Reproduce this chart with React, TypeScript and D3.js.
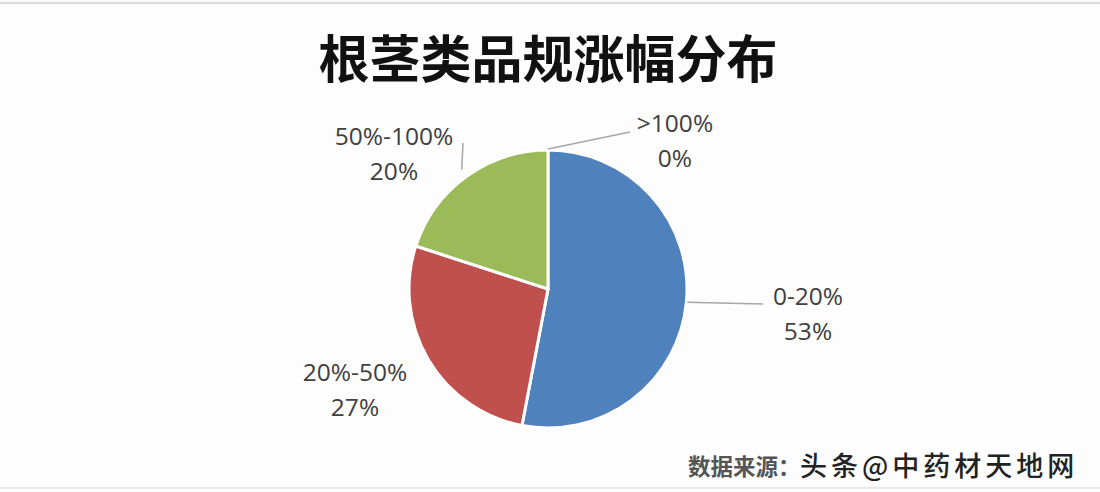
import React from "react";
import * as d3 from "d3";

const categories = ["0-20%", "20%-50%", "50%-100%", ">100%"];
const values = [53, 27, 20, 0];
const colors = ["#4f81bd", "#c0504d", "#9bbb59", "#8064a2"];

const W = 1100, H = 492;
const cx = 548, cy = 289, R = 139;

// label layout (text anchor point + leader line end on label side)
const labelPos = [
  { x: 808, y: 305, lx: 763, ly: 304 },
  { x: 355, y: 381, lx: null, ly: null },
  { x: 394, y: 145, lx: 463, ly: 143 },
  { x: 675, y: 132, lx: 630, ly: 132 },
];

export default function App() {
  const pie = d3.pie<number>().sort(null).value((d) => d)(values);
  const arc = d3.arc<d3.PieArcDatum<number>>().innerRadius(0).outerRadius(R);
  const font = "'Open Sans', 'Noto Sans', sans-serif";
  return (
    <svg width={W} height={H} style={{ position: "absolute", left: 0, top: 0, background: "#fdfdfd" }}>
      <rect x={0} y={0} width={W} height={H} fill="#fdfdfd" />
      <line x1={0} x2={W} y1={3} y2={3} stroke="#d8d8d8" strokeWidth={2} />
      <line x1={0} x2={W} y1={488} y2={488} stroke="#e0e0e0" strokeWidth={1.5} />
      <text x={cx} y={78} textAnchor="middle" fontFamily="'Noto Sans CJK SC', sans-serif" fontWeight={700} fontSize={51} fill="#111">
        根茎类品规涨幅分布
      </text>
      <g transform={`translate(${cx},${cy})`}>
        {pie.map((p, i) => (
          <path key={i} d={arc(p) || ""} fill={colors[i]} stroke="#ffffff" strokeWidth={p.value > 0 ? 3 : 0} />
        ))}
      </g>
      {pie.map((p, i) => {
        const lp = labelPos[i];
        const ang = (p.startAngle + p.endAngle) / 2;
        const sx = cx + Math.sin(ang) * (R + 1);
        const sy = cy - Math.cos(ang) * (R + 1);
        return (
          <g key={i}>
            {lp.lx !== null && (
              <polyline
                points={`${i === 2 ? sx - 4 : sx},${i === 2 ? sy - 6 : sy} ${lp.lx},${lp.ly}`}
                fill="none"
                stroke="#a6a6a6"
                strokeWidth={1.5}
              />
            )}
            <text x={lp.x} y={lp.y} textAnchor="middle" fontFamily={font} fontSize={24.5} fill="#404040">
              {categories[i]}
            </text>
            <text x={lp.x} y={lp.y + 35} textAnchor="middle" fontFamily={font} fontSize={24.5} fill="#404040">
              {`${values[i]}%`}
            </text>
          </g>
        );
      })}
      <text x={688} y={475} fontFamily="'Noto Sans CJK SC', sans-serif" fontWeight={700} fontSize={22.5} fill="#555">
        数据来源：
      </text>
      <text x={800} y={476} fontFamily="'Noto Sans CJK SC', sans-serif" fontWeight={500} fontSize={27} letterSpacing={4} fill="#222">
        头条@中药材天地网
      </text>
    </svg>
  );
}
